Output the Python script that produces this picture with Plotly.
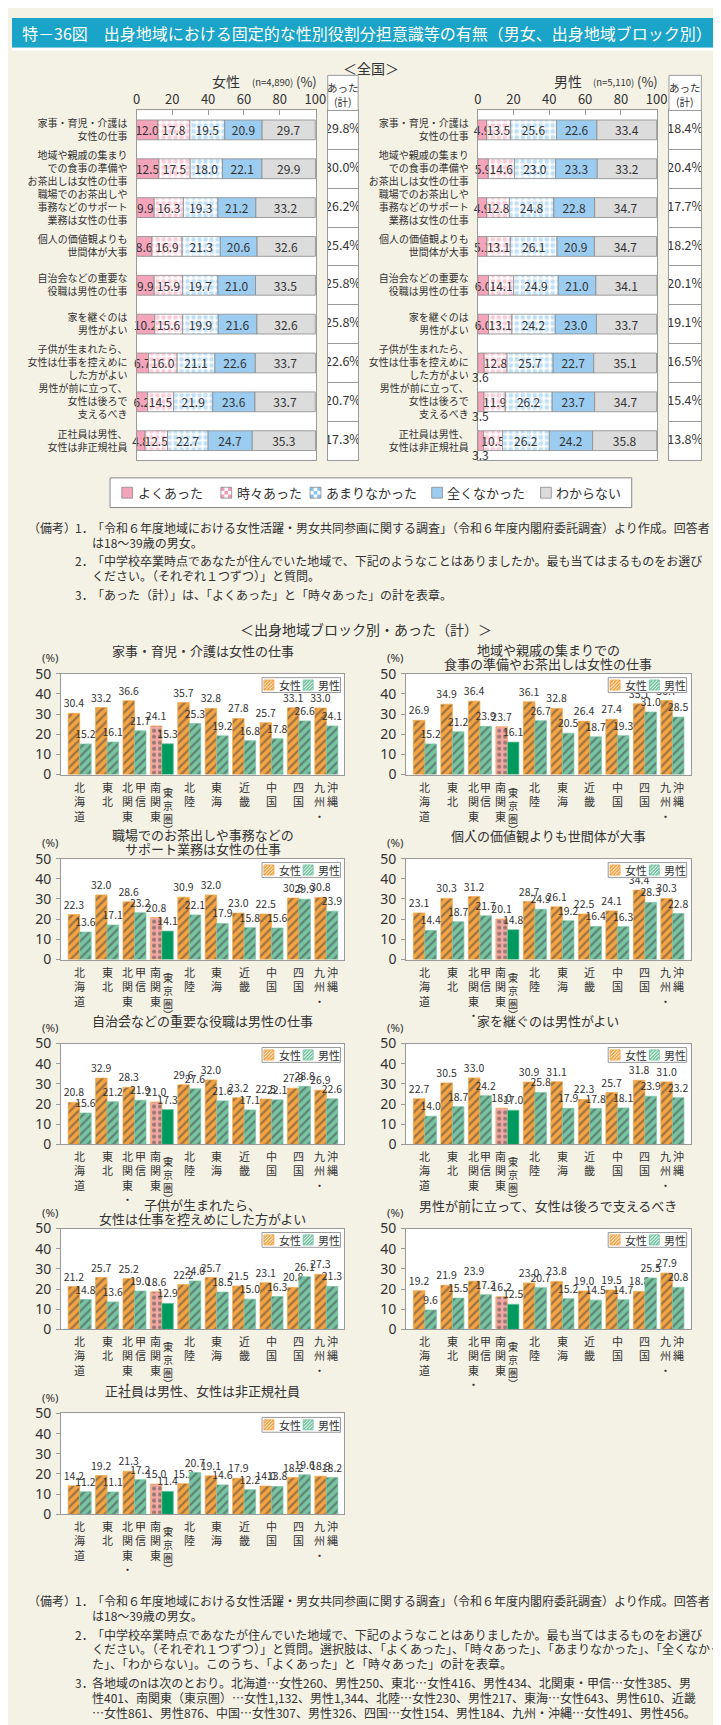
import plotly.graph_objects as go

W, H = 721, 1725
BG = "#f4f1e5"
TXT = "#333333"
FRAME = "#9a9a9a"
JP = "Noto Sans CJK JP"
NUM = "Liberation Sans Narrow, Noto Sans CJK JP"

# ---------------- data: national (全国) ----------------
items_top = [
    "家事・育児・介護は<br>女性の仕事",
    "地域や親戚の集まり<br>での食事の準備や<br>お茶出しは女性の仕事",
    "職場でのお茶出しや<br>事務などのサポート<br>業務は女性の仕事",
    "個人の価値観よりも<br>世間体が大事",
    "自治会などの重要な<br>役職は男性の仕事",
    "家を継ぐのは<br>男性がよい",
    "子供が生まれたら、<br>女性は仕事を控えめに<br>した方がよい",
    "男性が前に立って、<br>女性は後ろで<br>支えるべき",
    "正社員は男性、<br>女性は非正規社員",
]
answers = ["よくあった", "時々あった", "あまりなかった", "全くなかった", "わからない"]

female_yoku = [12.0, 12.5, 9.9, 8.6, 9.9, 10.2, 6.7, 6.2, 4.8]
female_tokidoki = [17.8, 17.5, 16.3, 16.9, 15.9, 15.6, 16.0, 14.5, 12.5]
female_amari = [19.5, 18.0, 19.3, 21.3, 19.7, 19.9, 21.1, 21.9, 22.7]
female_mattaku = [20.9, 22.1, 21.2, 20.6, 21.0, 21.6, 22.6, 23.6, 24.7]
female_wakaranai = [29.7, 29.9, 33.2, 32.6, 33.5, 32.6, 33.7, 33.7, 35.3]
female_atta = [29.8, 30.0, 26.2, 25.4, 25.8, 25.8, 22.6, 20.7, 17.3]

male_yoku = [4.9, 5.9, 4.9, 5.1, 6.0, 6.0, 3.6, 3.5, 3.3]
male_tokidoki = [13.5, 14.6, 12.8, 13.1, 14.1, 13.1, 12.8, 11.9, 10.5]
male_amari = [25.6, 23.0, 24.8, 26.1, 24.9, 24.2, 25.7, 26.2, 26.2]
male_mattaku = [22.6, 23.3, 22.8, 20.9, 21.0, 23.0, 22.7, 23.7, 24.2]
male_wakaranai = [33.4, 33.2, 34.7, 34.7, 34.1, 33.7, 35.1, 34.7, 35.8]
male_atta = [18.4, 20.4, 17.7, 18.2, 20.1, 19.1, 16.5, 15.4, 13.8]

# ---------------- data: by region (あった(計)) ----------------
regions = ["北海道", "東北", "北関東・甲信", "南関東（東京圏）", "北陸",
           "東海", "近畿", "中国", "四国", "九州・沖縄"]
region_cols = [
    [["北", "海", "道"]],
    [["東", "北"]],
    [["北", "関", "東", "・"], ["甲", "信"]],
    [["南", "関", "東"], ["︵", "東", "京", "圏", "︶"]],
    [["北", "陸"]],
    [["東", "海"]],
    [["近", "畿"]],
    [["中", "国"]],
    [["四", "国"]],
    [["九", "州", "・"], ["沖", "縄"]],
]
chart_titles = [
    "家事・育児・介護は女性の仕事",
    "地域や親戚の集まりでの<br>食事の準備やお茶出しは女性の仕事",
    "職場でのお茶出しや事務などの<br>サポート業務は女性の仕事",
    "個人の価値観よりも世間体が大事",
    "自治会などの重要な役職は男性の仕事",
    "家を継ぐのは男性がよい",
    "子供が生まれたら、<br>女性は仕事を控えめにした方がよい",
    "男性が前に立って、女性は後ろで支えるべき",
    "正社員は男性、女性は非正規社員",
]
c1_f = [30.4, 33.2, 36.6, 24.1, 35.7, 32.8, 27.8, 25.7, 33.1, 33.0]
c1_m = [15.2, 16.1, 21.7, 15.3, 25.3, 19.2, 16.8, 17.8, 26.6, 24.1]
c2_f = [26.9, 34.9, 36.4, 23.7, 36.1, 32.8, 26.4, 27.4, 35.1, 36.7]
c2_m = [15.2, 21.2, 23.9, 16.1, 26.7, 20.5, 18.7, 19.3, 31.0, 28.5]
c3_f = [22.3, 32.0, 28.6, 20.8, 30.9, 32.0, 23.0, 22.5, 30.5, 30.8]
c3_m = [13.6, 17.1, 23.2, 14.1, 22.1, 17.9, 15.8, 15.6, 29.9, 23.9]
c4_f = [23.1, 30.3, 31.2, 20.1, 28.7, 26.1, 22.5, 24.1, 34.4, 30.3]
c4_m = [14.4, 18.7, 21.7, 14.8, 24.9, 19.2, 16.4, 16.3, 28.3, 22.8]
c5_f = [20.8, 32.9, 28.3, 21.0, 29.6, 32.0, 23.2, 22.5, 27.9, 26.9]
c5_m = [15.6, 21.2, 21.9, 17.3, 27.6, 21.6, 17.1, 22.1, 28.8, 22.6]
c6_f = [22.7, 30.5, 33.0, 18.0, 30.9, 31.1, 22.3, 25.7, 31.8, 31.0]
c6_m = [14.0, 18.7, 24.2, 17.0, 25.8, 17.9, 17.8, 18.1, 23.9, 23.2]
c7_f = [21.2, 25.7, 25.2, 18.6, 22.2, 25.7, 21.5, 23.1, 20.8, 27.3]
c7_m = [14.8, 13.6, 19.0, 12.9, 24.0, 18.5, 15.0, 16.3, 26.1, 21.3]
c8_f = [19.2, 21.9, 23.9, 16.2, 23.0, 23.8, 19.0, 19.5, 18.8, 27.9]
c8_m = [9.6, 15.5, 17.2, 12.5, 20.7, 15.2, 14.5, 14.7, 25.5, 20.8]
c9_f = [14.2, 19.2, 21.3, 15.0, 15.2, 19.1, 17.9, 14.0, 18.2, 18.9]
c9_m = [11.2, 11.1, 17.2, 11.4, 20.7, 14.6, 12.2, 13.8, 19.6, 18.2]
female_series = [c1_f, c2_f, c3_f, c4_f, c5_f, c6_f, c7_f, c8_f, c9_f]
male_series = [c1_m, c2_m, c3_m, c4_m, c5_m, c6_m, c7_m, c8_m, c9_m]

notes_top = [
    ("（備考）", "1．", ["「令和６年度地域における女性活躍・男女共同参画に関する調査」（令和６年度内閣府委託調査）より作成。回答者",
                     "は18～39歳の男女。"]),
    ("", "2．", ["「中学校卒業時点であなたが住んでいた地域で、下記のようなことはありましたか。最も当てはまるものをお選び",
               "ください。（それぞれ１つずつ）」と質問。"]),
    ("", "3．", ["「あった（計）」は、「よくあった」と「時々あった」の計を表章。"]),
]
notes_bottom = [
    ("（備考）", "1．", ["「令和６年度地域における女性活躍・男女共同参画に関する調査」（令和６年度内閣府委託調査）より作成。回答者",
                     "は18～39歳の男女。"]),
    ("", "2．", ["「中学校卒業時点であなたが住んでいた地域で、下記のようなことはありましたか。最も当てはまるものをお選び",
               "ください。（それぞれ１つずつ）」と質問。選択肢は、「よくあった」、「時々あった」、「あまりなかった」、「全くなかっ",
               "た」、「わからない」。このうち、「よくあった」と「時々あった」の計を表章。"]),
    ("", "3．", ["各地域のnは次のとおり。北海道…女性260、男性250、東北…女性416、男性434、北関東・甲信…女性385、男",
               "性401、南関東（東京圏）…女性1,132、男性1,344、北陸…女性230、男性217、東海…女性643、男性610、近畿",
               "…女性861、男性876、中国…女性307、男性326、四国…女性154、男性184、九州・沖縄…女性491、男性456。"]),
]


def px(x):
    return x / W


def py(y):
    return 1 - y / H


def axkey(n, a):
    return a + "axis" + ("" if n == 1 else str(n))


def axref(n, a):
    return a + ("" if n == 1 else str(n))


fig = go.Figure()
layout = {}
annotations = []
shapes = []


def ann(x, y, text, size=12, xanchor="center", yanchor="middle", color=TXT, family=JP, **kw):
    d = dict(x=px(x), y=py(y), xref="paper", yref="paper", text=text, showarrow=False,
             xanchor=xanchor, yanchor=yanchor, font=dict(size=size, color=color, family=family))
    d.update(kw)
    annotations.append(d)


def rect(x0, y0, x1, y1, fill, line=None, lw=1, layer="above"):
    shapes.append(dict(type="rect", xref="paper", yref="paper", x0=px(x0), x1=px(x1),
                       y0=py(y1), y1=py(y0), fillcolor=fill, layer=layer,
                       line=dict(color=line or fill, width=lw if line else 0)))


# ---------------- title bar ----------------
rect(0, 0, W, 30, "#1aa4c7", layer="below")
rect(0, 30, W, 33, "white", layer="below")
ann(8, 15.5, "特－36図　出身地域における固定的な性別役割分担意識等の有無（男女、出身地域ブロック別）",
    size=16, xanchor="left", color="white")

ann(366, 51, "＜全国＞", size=14)

# ---------------- national stacked bars ----------------
seg_styles = [
    dict(color="#f4a5bb", shape="", bg="white"),
    dict(color="#f39bb6", shape=".", bg="white"),
    dict(color="#86c2ee", shape=".", bg="white"),
    dict(color="#9ccdf1", shape="", bg="white"),
    dict(color="#dcdcdc", shape="", bg="white"),
]
female_lists = [female_yoku, female_tokidoki, female_amari, female_mattaku, female_wakaranai]
male_lists = [male_yoku, male_tokidoki, male_amari, male_mattaku, male_wakaranai]

rows = list(range(len(items_top)))
TOP_Y0, TOP_Y1 = 93.5, 447

panels = [
    dict(lists=female_lists, atta=female_atta, bx=(127, 310), cx=(322, 353), nb=1, nc=2,
         name="女性", n="(n=4,890)", small=False),
    dict(lists=male_lists, atta=male_atta, bx=(475, 658), cx=(670, 703), nb=3, nc=4,
         name="男性", n="(n=5,110)", small=True),
]
for p in panels:
    nb, nc = p["nb"], p["nc"]
    base = [0.0] * len(rows)
    for j, vals in enumerate(p["lists"]):
        st = seg_styles[j]
        texts = []
        for v in vals:
            if p["small"] and j == 0 and v < 4:
                texts.append("")
            else:
                texts.append(f"{v:.1f}")
        fig.add_trace(go.Bar(
            y=rows, x=vals, base=base[:], orientation="h", width=0.51,
            name=answers[j], showlegend=False,
            marker=dict(color=st["color"], line=dict(color="#8a8a8a", width=0.8),
                        pattern=dict(shape=st["shape"], fgcolor=st["color"], bgcolor=st["bg"],
                                     size=6, solidity=0.5)),
            text=texts, textposition="inside", insidetextanchor="middle", textangle=0,
            constraintext="none", textfont=dict(size=12, color=TXT, family=NUM),
            xaxis=axref(nb, "x"), yaxis=axref(nb, "y"), hoverinfo="skip", cliponaxis=False,
        ))
        if p["small"] and j == 0:
            for i, v in enumerate(vals):
                if v < 4:
                    annotations.append(dict(x=v / 2, y=i, xref=axref(nb, "x"), yref=axref(nb, "y"),
                                            text=f"{v:.1f}", showarrow=False, yshift=-14,
                                            font=dict(size=12, color=TXT, family=NUM)))
        base = [b + v for b, v in zip(base, vals)]

    layout[axkey(nb, "x")] = dict(domain=[px(p["bx"][0]), px(p["bx"][1])], range=[0, 100.3], side="top",
                                  tickvals=[0, 20, 40, 60, 80, 100], ticks="inside", ticklen=5,
                                  tickcolor=FRAME, showline=True, mirror=True, linecolor=FRAME,
                                  showgrid=False, zeroline=False, anchor=axref(nb, "y"),
                                  tickfont=dict(size=13, family=NUM, color=TXT), fixedrange=True)
    layout[axkey(nb, "y")] = dict(domain=[py(TOP_Y1), py(TOP_Y0)], range=[len(rows) - 0.5, -0.5],
                                  tickvals=rows, ticktext=items_top, ticks="", showline=True,
                                  mirror=True, linecolor=FRAME, showgrid=False, zeroline=False,
                                  anchor=axref(nb, "x"), tickfont=dict(size=10, color=TXT, family=JP),
                                  ticklabelstandoff=6, fixedrange=True)
    # あった(計) column
    fig.add_trace(go.Scatter(x=[0.5] * len(rows), y=rows, text=[f"{v:.1f}%" for v in p["atta"]],
                             mode="text", textfont=dict(size=12.5, color=TXT, family=NUM),
                             xaxis=axref(nc, "x"), yaxis=axref(nc, "y"), showlegend=False,
                             hoverinfo="skip"))
    layout[axkey(nc, "x")] = dict(domain=[px(p["cx"][0]), px(p["cx"][1])], range=[0, 1],
                                  showticklabels=False, ticks="", showline=True, mirror=True,
                                  linecolor=FRAME, showgrid=False, zeroline=False,
                                  anchor=axref(nc, "y"), fixedrange=True)
    layout[axkey(nc, "y")] = dict(domain=[py(TOP_Y1), py(TOP_Y0)], range=[len(rows) - 0.5, -0.5],
                                  tickvals=[i + 0.5 for i in rows[:-1]], showticklabels=False,
                                  ticks="", showgrid=True, gridcolor=FRAME, gridwidth=1,
                                  showline=True, mirror=True, linecolor=FRAME, zeroline=False,
                                  anchor=axref(nc, "x"), fixedrange=True)
    rect(p["cx"][0], 58, p["cx"][1], TOP_Y0, "white", line=FRAME)
    cxm = (p["cx"][0] + p["cx"][1]) / 2
    ann(cxm, 70, "あった", size=10.5)
    ann(cxm, 84, "(計)", size=10.5)
    bxm = (p["bx"][0] + p["bx"][1]) / 2
    ann(bxm, 64, p["name"], size=14)
    ann(bxm + 47, 65, p["n"], size=9.5, family=NUM)
    ann(p["bx"][1] - 10, 64, "(%)", size=13, family=NUM)

# ---------------- top legend (manual) ----------------
rect(100, 465, 632, 495, "white", line="#888888")
leg_x = [112, 213, 304, 428, 539]
for j, lx in enumerate(leg_x):
    st = seg_styles[j]
    s = 11
    ly = 480 - s / 2
    if st["shape"] == ".":
        rect(lx, ly, lx + s, ly + s, "white")
        c = s / 3
        for a in range(3):
            for b in range(3):
                if (a + b) % 2 == 0:
                    rect(lx + a * c, ly + b * c, lx + (a + 1) * c, ly + (b + 1) * c, st["color"])
        rect(lx, ly, lx + s, ly + s, "rgba(0,0,0,0)", line="#888888", lw=0.8)
    else:
        rect(lx, ly, lx + s, ly + s, st["color"], line="#888888", lw=0.8)
    ann(lx + s + 3, 480, answers[j], size=13, xanchor="left")


def draw_notes(notes, y0, lh=15, gap=4):
    y = y0
    for head, num, lines in notes:
        if head:
            ann(14, y, head, size=12, xanchor="left")
        ann(62, y, num, size=12, xanchor="left")
        for ln in lines:
            ann(80, y, ln, size=12, xanchor="left")
            y += lh
        y += gap


draw_notes(notes_top, 515)

ann(361, 618, "＜出身地域ブロック別・あった（計）＞", size=14)

# ---------------- regional bar charts ----------------
F_COL, F_LINE = "#f5a443", "#f2a848"
M_COL, M_LINE = "#78c5a4", "#78c5a4"
SK_F, SK_F_DOT = "#f1a9a4", "#e08a86"
SK_M = "#009a5e"
xs = list(range(len(regions)))
SK = regions.index("南関東（東京圏）")

for k in range(len(chart_titles)):
    n = 5 + k
    col, row = k % 2, k // 2
    x0, x1 = (50, 339) if col == 0 else (402, 692)
    top = 663 + 187 * row
    bot = top + 102

    f_colors = [SK_F if i == SK else F_COL for i in xs]
    f_shapes = ["." if i == SK else "/" for i in xs]
    f_fg = [SK_F_DOT if i == SK else F_COL for i in xs]
    f_bg = [SK_F if i == SK else "white" for i in xs]
    m_colors = [SK_M if i == SK else M_COL for i in xs]
    m_shapes = ["" if i == SK else "/" for i in xs]
    m_fg = [SK_M if i == SK else M_COL for i in xs]
    m_bg = [SK_M if i == SK else "white" for i in xs]

    for vals, colors, shp, fg, bg, lc, off, nm in [
        (female_series[k], f_colors, f_shapes, f_fg, f_bg, F_LINE, -0.42, "女性"),
        (male_series[k], m_colors, m_shapes, m_fg, m_bg, M_LINE, 0.0, "男性"),
    ]:
        fig.add_trace(go.Bar(
            x=xs, y=vals, width=0.42, offset=off, name=nm, showlegend=False,
            marker=dict(color=colors, line=dict(color=lc, width=0.7),
                        pattern=dict(shape=shp, fgcolor=fg, bgcolor=bg, size=6, solidity=0.38)),
            text=[f"{v:.1f}" for v in vals], textposition="outside", textangle=0,
            constraintext="none", textfont=dict(size=10.5, color=TXT, family=NUM),
            cliponaxis=False, xaxis=axref(n, "x"), yaxis=axref(n, "y"), hoverinfo="skip",
        ))
    layout[axkey(n, "x")] = dict(domain=[px(x0), px(x1)], range=[-0.68, 9.66], showticklabels=False,
                                 ticks="", showline=True, mirror=True, linecolor=FRAME,
                                 showgrid=False, zeroline=False, anchor=axref(n, "y"), fixedrange=True)
    layout[axkey(n, "y")] = dict(domain=[py(bot), py(top)], range=[0, 50], dtick=10, ticks="outside",
                                 ticklen=4, tickcolor=FRAME, showline=True, mirror=True,
                                 linecolor=FRAME, showgrid=False, zeroline=False,
                                 anchor=axref(n, "x"), tickfont=dict(size=14, color=TXT, family="Noto Sans"),
                                 ticklabelstandoff=2, fixedrange=True)

    # title
    tl = chart_titles[k].split("<br>")
    cx = (x0 + x1) / 2
    if len(tl) == 1:
        ann(cx, top - 23, tl[0], size=13)
    else:
        ann(cx, top - 24, tl[0], size=13)
        ann(cx, top - 10, tl[1], size=13)
    ann(x0 - 11, top - 16, "(%)", size=11.5, family="Noto Sans")

    # region labels (vertical)
    xr, yr = axref(n, "x"), axref(n, "y") + " domain"
    for i, cols in enumerate(region_cols):
        shifts = [0] if len(cols) == 1 else [-6.5, 6]
        for cc, sh in zip(cols, shifts):
            body = [c for c in cc if c not in ("︵", "︶")]
            fs = 11 if len(body) == len(cc) else 10
            ys = -2
            if cc[0] == "︵":
                annotations.append(dict(x=i, y=0, xref=xr, yref=yr, text="︵", showarrow=False,
                                        xanchor="center", yanchor="top", xshift=sh, yshift=-1,
                                        font=dict(size=10, color=TXT, family=JP)))
                ys = -8
            annotations.append(dict(x=i, y=0, xref=xr, yref=yr, text="<br>".join(body),
                                    showarrow=False, xanchor="center", yanchor="top",
                                    xshift=sh, yshift=ys, font=dict(size=fs, color=TXT, family=JP)))
            if cc[-1] == "︶":
                annotations.append(dict(x=i, y=0, xref=xr, yref=yr, text="︶", showarrow=False,
                                        xanchor="center", yanchor="top", xshift=sh,
                                        yshift=ys - len(body) * fs * 1.3 + 2,
                                        font=dict(size=10, color=TXT, family=JP)))

    # legend box (manual)
    lx0, lx1 = x1 - 84, x1 - 4
    ly0, ly1 = top + 4, top + 19
    rect(lx0, ly0, lx1, ly1, "white", line=FRAME)
    for sx, colr, label in [(lx0 + 2, F_COL, "女性"), (lx0 + 42, M_COL, "男性")]:
        s = 10
        sy = ly0 + 2.5
        rect(sx, sy, sx + s, sy + s, "white", line=colr)
        segs = []
        for d in [3.3, 6.6, 10.0, 13.3, 16.6]:
            if d <= s:
                a = (sx, sy + d)
                b = (sx + d, sy)
            else:
                a = (sx + d - s, sy + s)
                b = (sx + s, sy + d - s)
            segs.append(f"M{px(a[0])},{py(a[1])} L{px(b[0])},{py(b[1])}")
        shapes.append(dict(type="path", xref="paper", yref="paper", path=" ".join(segs),
                           line=dict(color=colr, width=1.6)))
        ann(sx + 13, ly0 + 7.5, label, size=11, xanchor="left")

draw_notes(notes_bottom, 1600)

layout.update(dict(width=W, height=H, margin=dict(l=0, r=0, t=0, b=0), paper_bgcolor=BG,
                   plot_bgcolor="white", barmode="overlay", showlegend=False,
                   font=dict(family=JP, color=TXT), annotations=annotations, shapes=shapes))
fig.update_layout(**layout)
fig.write_html("out.html")
